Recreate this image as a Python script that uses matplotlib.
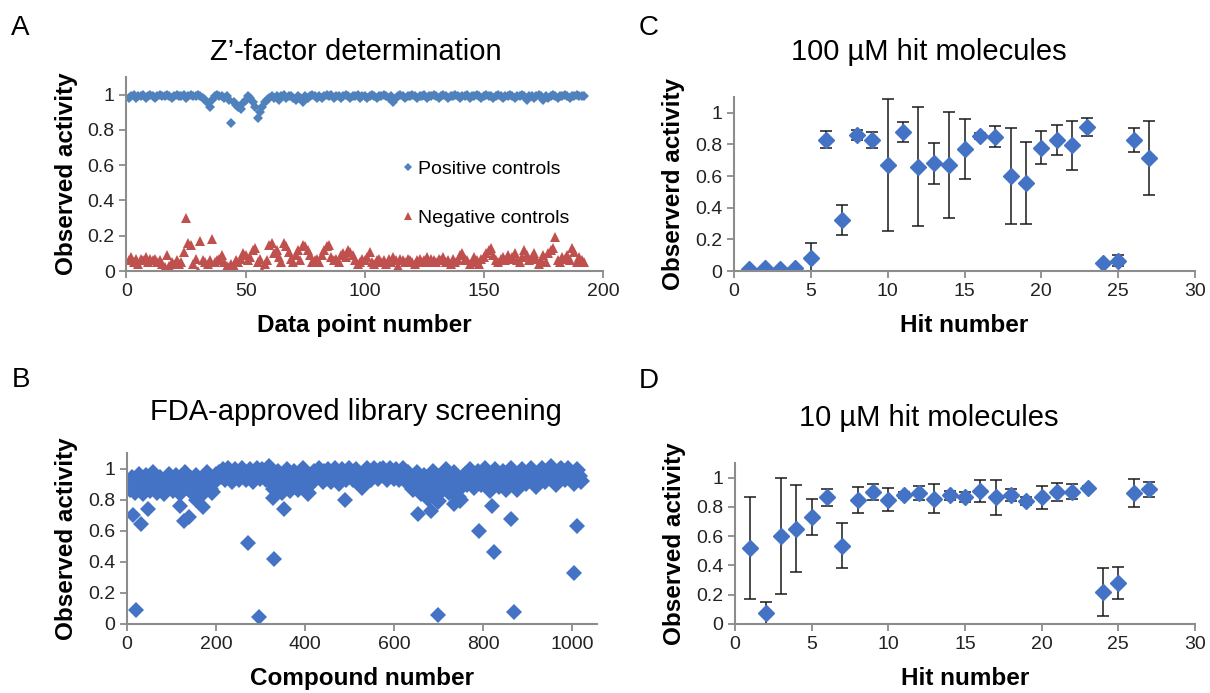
import numpy as np
import matplotlib
matplotlib.use('Agg')
import matplotlib.pyplot as plt

plt.rcParams['font.family'] = ['Liberation Sans', 'DejaVu Sans']

# ---- panel A : Z'-factor plate, data points 1..192
pos_controls = [
  0.98, 0.99, 1.00, 0.98, 0.99, 0.99, 1.00, 0.98, 0.99, 1.00,
  0.99, 0.98, 0.99, 1.00, 0.99, 0.99, 1.00, 0.99, 0.98, 0.99,
  1.00, 0.99, 0.99, 1.00, 0.98, 0.99, 1.00, 0.99, 0.99, 1.00,
  0.99, 0.98, 0.97, 0.95, 0.93, 0.97, 0.99, 1.00, 0.99, 0.99,
  0.98, 0.99, 0.97, 0.84, 0.96, 0.94, 0.93, 0.92, 0.95, 0.97,
  0.99, 0.98, 0.96, 0.93, 0.87, 0.90, 0.93, 0.96, 0.97, 0.98,
  0.99, 0.98, 0.99, 0.97, 0.99, 1.00, 0.98, 0.99, 0.99, 0.98,
  0.97, 0.99, 0.98, 0.96, 0.99, 0.98, 0.99, 1.00, 0.99, 0.98,
  0.99, 0.98, 0.99, 1.00, 0.99, 1.00, 0.98, 0.99, 0.99, 0.98,
  0.99, 1.00, 0.99, 0.98, 0.99, 0.99, 1.00, 0.98, 0.99, 0.99,
  0.98, 0.99, 1.00, 0.99, 0.98, 0.99, 0.99, 1.00, 0.99, 0.98,
  0.99, 0.96, 0.98, 0.99, 1.00, 0.99, 0.98, 0.99, 0.99, 1.00,
  0.99, 0.98, 0.99, 0.99, 1.00, 0.98, 0.99, 0.99, 1.00, 0.99,
  0.98, 0.99, 1.00, 0.99, 0.98, 0.99, 0.99, 1.00, 0.99, 0.98,
  0.99, 0.99, 1.00, 0.98, 0.99, 0.99, 1.00, 0.99, 0.98, 0.99,
  1.00, 0.99, 0.99, 0.98, 0.99, 1.00, 0.99, 0.98, 0.99, 0.99,
  1.00, 0.99, 0.98, 0.99, 0.99, 1.00, 0.99, 0.97, 0.99, 0.99,
  0.98, 0.99, 1.00, 0.99, 0.97, 0.99, 0.98, 0.99, 1.00, 0.99,
  0.98, 0.99, 0.99, 1.00, 0.99, 0.98, 0.99, 0.99, 1.00, 0.99,
  0.99, 0.99]
neg_controls = [
  0.06, 0.08, 0.05, 0.07, 0.04, 0.07, 0.06, 0.08, 0.05, 0.07,
  0.06, 0.07, 0.05, 0.06, 0.04, 0.02, 0.09, 0.03, 0.05, 0.04,
  0.06, 0.04, 0.05, 0.11, 0.30, 0.16, 0.15, 0.04, 0.07, 0.00,
  0.17, 0.06, 0.05, 0.04, 0.06, 0.18, 0.05, 0.06, 0.07, 0.09,
  0.05, 0.03, 0.02, 0.04, 0.03, 0.06, 0.05, 0.07, 0.10, 0.09,
  0.06, 0.08, 0.12, 0.13, 0.05, 0.07, 0.00, 0.04, 0.06, 0.15,
  0.16, 0.10, 0.12, 0.08, 0.05, 0.16, 0.14, 0.11, 0.07, 0.05,
  0.09, 0.12, 0.06, 0.15, 0.14, 0.12, 0.09, 0.05, 0.06, 0.07,
  0.05, 0.09, 0.12, 0.14, 0.15, 0.08, 0.06, 0.07, 0.05, 0.09,
  0.10, 0.08, 0.12, 0.11, 0.09, 0.06, 0.04, 0.05, 0.07, 0.06,
  0.08, 0.11, 0.05, 0.04, 0.06, 0.07, 0.05, 0.06, 0.04, 0.07,
  0.05, 0.08, 0.06, 0.03, 0.07, 0.06, 0.05, 0.07, 0.06, 0.05,
  0.04, 0.06, 0.07, 0.05, 0.06, 0.08, 0.05, 0.07, 0.06, 0.05,
  0.07, 0.06, 0.08, 0.05, 0.06, 0.04, 0.07, 0.05, 0.06, 0.09,
  0.10, 0.07, 0.06, 0.04, 0.05, 0.08, 0.06, 0.04, 0.07, 0.08,
  0.10, 0.12, 0.13, 0.09, 0.06, 0.05, 0.07, 0.08, 0.06, 0.09,
  0.07, 0.08, 0.10, 0.06, 0.05, 0.08, 0.12, 0.09, 0.06, 0.08,
  0.10, 0.07, 0.04, 0.06, 0.09, 0.05, 0.10, 0.12, 0.13, 0.19,
  0.06, 0.05, 0.08, 0.07, 0.09, 0.06, 0.13, 0.11, 0.05, 0.08,
  0.06, 0.05]

# ---- panel B : FDA library screen (band sampled every 4th compound)
compound_no = list(range(3, 1020, 4))
screen_vals = [
  # 0-200
  0.91, 0.87, 0.94, 0.90, 0.85, 0.93, 0.96, 0.88, 0.84, 0.92,
  0.95, 0.89, 0.86, 0.93, 0.97, 0.90, 0.85, 0.88, 0.94, 0.90,
  0.84, 0.87, 0.93, 0.96, 0.91, 0.86, 0.92, 0.95, 0.88, 0.84,
  0.90, 0.94, 0.97, 0.92, 0.87, 0.93, 0.85, 0.90, 0.95, 0.91,
  0.86, 0.83, 0.89, 0.94, 0.97, 0.92, 0.87, 0.85, 0.93, 0.96,
  # 200-320
  0.93, 0.97, 0.95, 0.99, 0.93, 0.96, 1.00, 0.94, 0.92, 0.97,
  0.99, 0.95, 0.93, 0.98, 1.00, 0.96, 0.93, 0.97, 0.99, 0.94,
  0.92, 0.96, 1.00, 0.97, 0.94, 0.99, 0.95, 0.93, 0.98, 1.01,
  # 320-420
  0.96, 0.91, 0.87, 0.93, 0.98, 0.89, 0.85, 0.92, 0.96, 0.99,
  0.90, 0.86, 0.94, 0.98, 0.91, 0.87, 0.93, 0.97, 1.00, 0.92,
  0.88, 0.84, 0.90, 0.95, 0.98,
  # 420-640
  0.93, 0.97, 1.00, 0.95, 0.92, 0.98, 0.94, 0.99, 0.96, 0.92,
  0.97, 1.00, 0.94, 0.91, 0.96, 0.99, 0.95, 0.93, 0.98, 1.00,
  0.96, 0.93, 0.97, 0.99, 0.94, 0.91, 0.88, 0.93, 0.97, 1.00,
  0.95, 0.93, 0.98, 1.00, 0.96, 0.94, 0.99, 0.97, 1.00, 0.95,
  0.93, 0.98, 1.00, 0.96, 0.94, 0.99, 0.97, 0.93, 0.96, 1.00,
  0.95, 0.92, 0.97, 0.94, 0.90,
  # 640-760
  0.87, 0.93, 0.97, 0.89, 0.84, 0.91, 0.95, 0.86, 0.81, 0.88,
  0.94, 0.98, 0.90, 0.83, 0.79, 0.86, 0.92, 0.96, 0.99, 0.91,
  0.85, 0.88, 0.94, 0.97, 0.87, 0.82, 0.80, 0.89, 0.93, 0.96,
  # 760-1020
  0.90, 0.95, 0.99, 0.92, 0.88, 0.94, 0.98, 0.93, 0.90, 0.96,
  1.00, 0.94, 0.91, 0.86, 0.93, 0.97, 0.99, 0.92, 0.89, 0.95,
  0.98, 0.93, 0.87, 0.91, 0.96, 1.00, 0.94, 0.90, 0.87, 0.93,
  0.97, 0.99, 0.95, 0.91, 0.94, 0.98, 1.00, 0.96, 0.92, 0.89,
  0.94, 0.97, 1.00, 0.95, 0.92, 0.96, 0.99, 1.01, 0.97, 0.93,
  0.90, 0.95, 0.99, 1.00, 0.96, 0.93, 0.98, 1.00, 0.97, 0.94,
  0.91, 0.96, 0.99, 0.95, 0.92]
outlier_no = [13, 21, 32, 47, 118, 129, 140, 155, 170, 271, 297, 327, 330, 353,
              490, 653, 683, 698, 735, 790, 820, 824, 863, 868, 1003, 1011]
outlier_vals = [0.70, 0.09, 0.645, 0.74, 0.76, 0.66, 0.69, 0.80, 0.75, 0.52, 0.045, 0.81, 0.42, 0.74,
                0.80, 0.71, 0.73, 0.055, 0.77, 0.60, 0.76, 0.46, 0.675, 0.08, 0.33, 0.63]

# ---- panels C and D : hit confirmation
hit_no = list(range(1, 28))
act_100 = [0.01, 0.02, 0.01, 0.02, 0.08, 0.83, 0.32, 0.86, 0.83, 0.67,
           0.88, 0.66, 0.68, 0.67, 0.77, 0.855, 0.85, 0.60, 0.555, 0.78,
           0.83, 0.795, 0.91, 0.05, 0.065, 0.83, 0.715]
err_100 = [0.0, 0.0, 0.0, 0.0, 0.095, 0.055, 0.095, 0.03, 0.05, 0.42,
           0.065, 0.375, 0.13, 0.335, 0.19, 0.02, 0.065, 0.305, 0.26, 0.105,
           0.095, 0.155, 0.055, 0.0, 0.035, 0.077, 0.235]
act_10 = [0.52, 0.075, 0.60, 0.65, 0.73, 0.865, 0.535, 0.845, 0.90, 0.85,
          0.88, 0.895, 0.855, 0.88, 0.87, 0.91, 0.865, 0.88, 0.84, 0.865,
          0.90, 0.905, 0.93, 0.22, 0.28, 0.895, 0.92]
err_10 = [0.35, 0.075, 0.395, 0.297, 0.125, 0.06, 0.155, 0.09, 0.055, 0.078,
          0.02, 0.05, 0.10, 0.03, 0.035, 0.075, 0.12, 0.04, 0.03, 0.077,
          0.06, 0.052, 0.015, 0.163, 0.112, 0.094, 0.053]

y_ticks = [0, 0.2, 0.4, 0.6, 0.8, 1.0]
y_ticklabels = ['0', '0.2', '0.4', '0.6', '0.8', '1']

blue = '#4472C4'
blue_a = '#4F81BD'
red = '#C0504D'
gray = '#8C8C8C'

W, H = 1210, 693

def box(left, top, right, bottom):
  return [left / W, 1 - bottom / H, (right - left) / W, (bottom - top) / H]

def style_axes(ax, xticks, xlabel, ylabel):
  for s in ['top', 'right']:
    ax.spines[s].set_visible(False)
  for s in ['left', 'bottom']:
    ax.spines[s].set_color(gray)
    ax.spines[s].set_linewidth(1.5)
  ax.set_xticks(xticks)
  ax.set_xticklabels([str(t) for t in xticks])
  ax.set_yticks(y_ticks)
  ax.set_yticklabels(y_ticklabels)
  ax.set_ylim(0, 1.1)
  ax.tick_params(axis='both', colors=gray, labelcolor='#222222', labelsize=14,
                 length=5, width=1.3, direction='out')
  ax.set_xlabel(xlabel, fontsize=17.5, fontweight='bold', labelpad=10)
  ax.set_ylabel(ylabel, fontsize=17.5, fontweight='bold', labelpad=7)

fig = plt.figure(figsize=(12.1, 6.93), dpi=100)

# A
axA = fig.add_axes(box(126.5, 77, 603, 271))
xa = np.arange(1, len(pos_controls) + 1)
axA.plot(xa, pos_controls, 'D', color=blue_a, ms=5.5, mew=0, label='Positive controls')
axA.plot(xa, neg_controls, '^', color=red, ms=7, mew=0, label='Negative controls')
axA.set_xlim(0, 200)
style_axes(axA, [0, 50, 100, 150, 200], 'Data point number', 'Observed activity')
axA.legend(loc='center left', bbox_to_anchor=(0.533, 0.40), frameon=False,
           fontsize=14, handletextpad=0.05, labelspacing=1.6, handlelength=1.0,
           markerscale=0.8)

# B
axB = fig.add_axes(box(127, 453, 597, 624))
axB.plot(compound_no, screen_vals, 'D', color=blue, ms=9, mew=0)
axB.plot(outlier_no, outlier_vals, 'D', color=blue, ms=8.5, mew=0)
axB.set_xlim(0, 1055)
style_axes(axB, [0, 200, 400, 600, 800, 1000], 'Compound number', 'Observed activity')

# C
axC = fig.add_axes(box(734, 97, 1195, 271))
axC.errorbar(hit_no, act_100, yerr=err_100, fmt='D', color=blue, ms=8.5,
             markeredgecolor=blue, ecolor='#1a1a1a', elinewidth=1.1, capsize=4, capthick=1.1)
axC.set_xlim(0, 30)
style_axes(axC, [0, 5, 10, 15, 20, 25, 30], 'Hit number', 'Observerd activity')

# D
axD = fig.add_axes(box(735, 463, 1195, 624))
axD.errorbar(hit_no, act_10, yerr=err_10, fmt='D', color=blue, ms=8.5,
             markeredgecolor=blue, ecolor='#1a1a1a', elinewidth=1.1, capsize=4, capthick=1.1)
axD.set_xlim(0, 30)
style_axes(axD, [0, 5, 10, 15, 20, 25, 30], 'Hit number', 'Observed activity')

# titles and panel letters
fig.text(356 / W, 1 - 52 / H, 'Z\u2019-factor determination', fontsize=21, ha='center', va='center')
fig.text(356 / W, 1 - 412 / H, 'FDA-approved library screening', fontsize=21, ha='center', va='center')
fig.text(929 / W, 1 - 52 / H, '100 \u00b5M hit molecules', fontsize=21, ha='center', va='center')
fig.text(929 / W, 1 - 418 / H, '10 \u00b5M hit molecules', fontsize=21, ha='center', va='center')
fig.text(20 / W, 1 - 28 / H, 'A', fontsize=20, ha='center', va='center')
fig.text(21 / W, 1 - 380 / H, 'B', fontsize=20, ha='center', va='center')
fig.text(649 / W, 1 - 28 / H, 'C', fontsize=20, ha='center', va='center')
fig.text(649 / W, 1 - 381 / H, 'D', fontsize=20, ha='center', va='center')

fig.savefig('out.png', dpi=100)
